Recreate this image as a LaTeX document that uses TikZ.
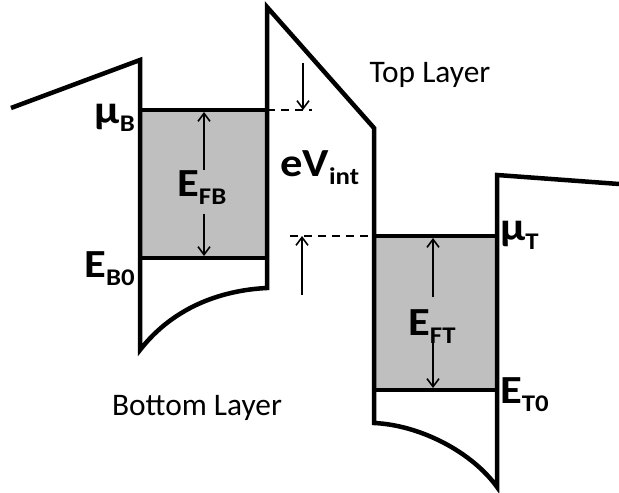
\documentclass[tikz,border=0pt]{standalone}
\usepackage{fontspec}
\setmainfont{Carlito}
\newfontfamily\lblfont{Carlito}[FakeStretch=1.12]
\usetikzlibrary{arrows.meta}
\newcommand\mysub[1]{\raisebox{-8bp}{\fontsize{24}{24}\selectfont #1}}
\definecolor{bandgray}{RGB}{191,191,191}
\tikzset{
  wall/.style={line width=4.5bp, line join=miter},
  level/.style={line width=3.5bp},
  dim/.style={line width=1.6bp, -{Straight Barb[length=8bp,width=12bp]}},
  guide/.style={line width=1.6bp, dash pattern=on 8bp off 6bp},
  lbl/.style={inner sep=0pt, font=\lblfont\bfseries\fontsize{40}{40}\selectfont},
  layer/.style={inner sep=0pt, font=\fontsize{31.5}{31.5}\selectfont}
}
\begin{document}
\begin{tikzpicture}[x=1bp,y=-1bp]
\useasboundingbox (0,0) rectangle (619,493);
% band filling
\fill[bandgray] (140,110) rectangle (267,258);
\fill[bandgray] (374,236) rectangle (497,390);
% outline coordinates
\coordinate (l0) at (11,108);
\coordinate (l1) at (140,60);
\coordinate (l2) at (140,350);
\coordinate (l3) at (267,288);
\coordinate (l4) at (267,7);
\coordinate (r1) at (374,128);
\coordinate (r2) at (374,423);
\coordinate (r3) at (497,487);
\coordinate (r4) at (497,175);
\coordinate (r5) at (619,184);
% levels
\coordinate (muBl) at (140,110);  \coordinate (muBr) at (267,110);
\coordinate (eBl)  at (140,258);  \coordinate (eBr)  at (267,258);
\coordinate (muTl) at (374,236);  \coordinate (muTr) at (497,236);
\coordinate (eTl)  at (374,390);  \coordinate (eTr)  at (497,390);
\draw[level] (muBl) -- (muBr);
\draw[level] (eBl) -- (eBr);
\draw[level] (muTl) -- (muTr);
\draw[level] (eTl) -- (eTr);
% band outline
\draw[wall] (l0) -- (l1) -- (l2)
  .. controls (175,305) and (225,290) .. (l3) -- (l4) -- (r1) -- (r2)
  .. controls (420,425) and (472,452) .. (r3) -- (r4) -- (r5);
% dashed guides
\coordinate (g1) at (312,110);
\coordinate (g2) at (290,236);
\draw[guide] (muBr) -- (g1);
\draw[guide] (g2) -- (muTl);
% eV_int arrows
\coordinate (a1s) at (303,63);  \coordinate (a1e) at (303,110);
\coordinate (a2s) at (302,295); \coordinate (a2e) at (302,236);
\draw[dim] (a1s) -- (a1e);
\draw[dim] (a2s) -- (a2e);
% labels
\node[lbl, anchor=base east] (muB) at (135,124) {μ\mysub{B}};
\node[lbl, anchor=base east] (EB0) at (135,277) {E\mysub{B0}};
\node[lbl, anchor=base west] (EFB) at (177,197) {E\mysub{FB}};
\node[lbl, anchor=base west] (eV) at (280,177) {eV\mysub{int}};
\node[lbl, anchor=base west] (muT) at (500,241) {μ\mysub{T}};
\node[lbl, anchor=base west] (ET0) at (500,403) {E\mysub{T0}};
\node[lbl, anchor=base west] (EFT) at (408,335) {E\mysub{FT}};
\node[layer] (top) at (430,75) {Top Layer};
\node[layer] (bot) at (197,408) {Bottom Layer};
% E_F arrows
\coordinate (fb1) at (204,170); \coordinate (fb2) at (204,112);
\coordinate (fb3) at (204,214); \coordinate (fb4) at (204,256);
\draw[dim] (fb1) -- (fb2);
\draw[dim] (fb3) -- (fb4);
\coordinate (ft1) at (433,297); \coordinate (ft2) at (433,238);
\coordinate (ft3) at (433,343); \coordinate (ft4) at (433,388);
\draw[dim] (ft1) -- (ft2);
\draw[dim] (ft3) -- (ft4);
\end{tikzpicture}
\end{document}
